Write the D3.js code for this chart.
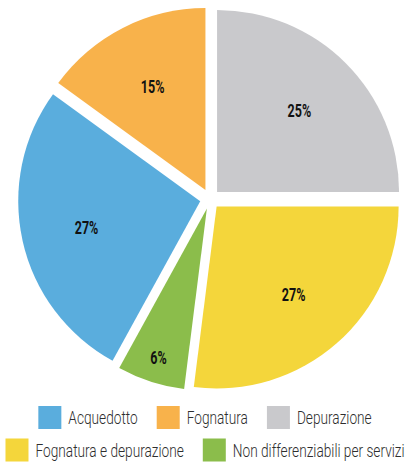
<!DOCTYPE html>
<html>
<head>
<meta charset="utf-8">
<script src="https://cdn.jsdelivr.net/npm/d3@7/dist/d3.min.js"></script>
<style>
  html, body { margin: 0; padding: 0; background: #fff; }
  svg { display: block; }
  .pct { font-family: Roboto, "Liberation Sans", sans-serif; font-weight: 700; fill: #111; }
  .leg { font-family: Roboto, "Liberation Sans", sans-serif; font-weight: 300; fill: #2e2e2e; }
</style>
</head>
<body>
<svg id="chart" width="419" height="463"></svg>
<script>
// Spesa per servizio idrico (quote percentuali)
const categories = ["Acquedotto", "Fognatura", "Depurazione", "Fognatura e depurazione", "Non differenziabili per servizi"];
const shares = [27, 15, 25, 27, 6];
const colors = ["#5aaddd", "#f8b24b", "#c9c9cc", "#f4d63b", "#8bbd4b"];
const legendRows = [[0, 1, 2], [3, 4]];

const cx = 210, cy = 199, R = 182, explode = 10;
const narrow = 0.76;      // horizontal squeeze for the condensed look of the legend
const narrowPct = 0.66;   // same for the percentage labels

const svg = d3.select("#chart");

// "Depurazione" starts at twelve o'clock; the others follow clockwise
const before = d3.sum(shares.slice(0, 2)) / d3.sum(shares) * 2 * Math.PI;
const pie = d3.pie().sort(null).value(d => d)
  .startAngle(-before).endAngle(2 * Math.PI - before);
const arcs = pie(shares);
const arc = d3.arc().innerRadius(0).outerRadius(R);

const g = svg.append("g").attr("transform", `translate(${cx},${cy})`);

const slice = g.selectAll("g.slice").data(arcs).join("g")
  .attr("class", "slice")
  .attr("transform", d => {
    const a = (d.startAngle + d.endAngle) / 2;
    return `translate(${Math.sin(a) * explode},${-Math.cos(a) * explode})`;
  });

slice.append("path")
  .attr("d", arc)
  .attr("fill", (d, i) => colors[i]);

slice.append("text")
  .attr("class", "pct")
  .attr("font-size", 19)
  .attr("text-anchor", "middle")
  .attr("y", 7)
  .attr("transform", d => {
    const a = (d.startAngle + d.endAngle) / 2;
    const k = d.value < 10 ? 0.86 : 0.64;
    return `translate(${Math.sin(a) * R * k},${-Math.cos(a) * R * k}) scale(${narrowPct},1)`;
  })
  .text(d => d.value + "%");

// Legend: two centred rows
const sw = 23, gapText = 7, gapItem = 19;
const rowY = [417.5, 450];
legendRows.forEach((row, r) => {
  const rg = svg.append("g");
  let x = 0;
  row.forEach(i => {
    const item = rg.append("g").attr("transform", `translate(${x},0)`);
    item.append("rect").attr("x", 0).attr("y", -sw / 2).attr("width", sw).attr("height", sw)
      .attr("fill", colors[i]);
    const t = item.append("text").attr("class", "leg").attr("font-size", 18)
      .attr("transform", `translate(${sw + gapText},6.5) scale(${narrow},1)`)
      .text(categories[i]);
    x += sw + gapText + t.node().getComputedTextLength() * narrow + gapItem;
  });
  const total = x - gapItem;
  rg.attr("transform", `translate(${205 - total / 2},${rowY[r]})`);
});
</script>
</body>
</html>
